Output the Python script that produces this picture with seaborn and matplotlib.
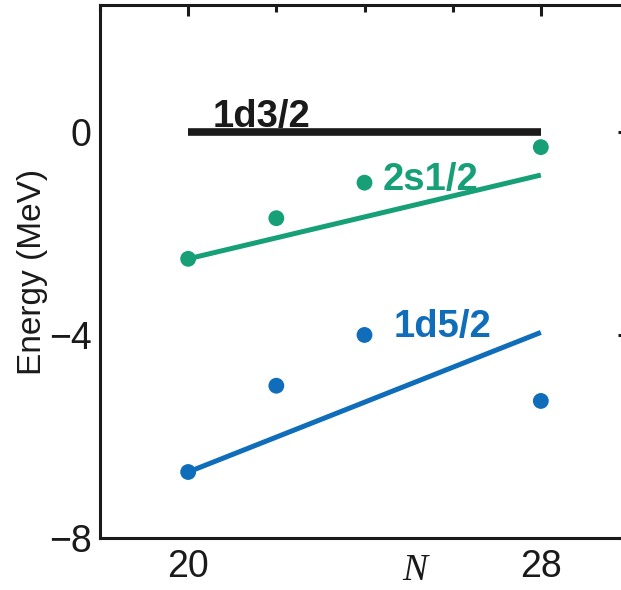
import matplotlib
matplotlib.use("Agg")
import matplotlib.pyplot as plt
import seaborn as sns
from matplotlib.ticker import MultipleLocator

# Data
N = [20, 22, 24, 28]
e_2s12 = [-2.5, -1.7, -1.0, -0.3]
e_1d52 = [-6.7, -5.0, -4.0, -5.3]
fit_N = [20, 28]
fit_2s12 = [-2.5, -0.85]
fit_1d52 = [-6.7, -3.95]
fit_1d32 = [0.0, 0.0]
labels = ["1d3/2", "2s1/2", "1d5/2"]

GREEN = "#17a077"
BLUE = "#0f6dba"
INK = "#1a1a1a"

sns.set_style("white")
plt.rcParams["font.family"] = ["Liberation Sans", "DejaVu Sans"]

fig = plt.figure(figsize=(6.21, 5.90), dpi=100)
ax = fig.add_axes([100/621, 52/590, 529/621, 533/590])

sns.lineplot(x=fit_N, y=fit_1d32, ax=ax, color=INK, lw=5.5, solid_capstyle="butt")
sns.lineplot(x=fit_N, y=fit_2s12, ax=ax, color=GREEN, lw=3.6, solid_capstyle="butt")
sns.lineplot(x=fit_N, y=fit_1d52, ax=ax, color=BLUE, lw=3.6, solid_capstyle="butt")
sns.scatterplot(x=N, y=e_2s12, ax=ax, color=GREEN, s=130, edgecolor="none", zorder=3)
sns.scatterplot(x=N, y=e_1d52, ax=ax, color=BLUE, s=130, edgecolor="none", zorder=3)

ax.text(20.55, 0.1, labels[0], color=INK, fontsize=27.5, fontweight="bold", ha="left", va="baseline")
ax.text(24.4, -0.95, labels[1], color=GREEN, fontsize=27.5, fontweight="bold", ha="left", va="center")
ax.text(24.65, -3.85, labels[2], color=BLUE, fontsize=27.5, fontweight="bold", ha="left", va="center")

ax.set_xlim(18, 30)
ax.set_ylim(-8, 2.5)
ax.set_xticks([20, 28])
ax.set_xticklabels(["20", "28"])
ax.xaxis.set_minor_locator(MultipleLocator(2))
ax.set_yticks([-8, -4, 0])
ax.set_yticklabels(["\u22128", "\u22124", "0"])
ax.yaxis.set_minor_locator(MultipleLocator(1))

ax.tick_params(which="both", direction="in", top=True, right=True, width=2.2, labelsize=27, colors=INK)
ax.tick_params(axis="x", which="both", pad=8)
ax.tick_params(axis="y", which="both", pad=6)
ax.tick_params(which="major", length=8)
ax.tick_params(axis="x", which="minor", length=5)
ax.tick_params(axis="y", which="minor", length=3.5)
for sp in ax.spines.values():
    sp.set_linewidth(2.2)
    sp.set_color(INK)

ax.set_ylabel("Energy (MeV)", fontsize=24, color=INK, labelpad=1)
ax.set_xlabel("N", fontsize=27, fontstyle="italic", family=["Liberation Serif", "DejaVu Serif"],
              color=INK, labelpad=-23, x=(25.15 - 18) / 12)

fig.savefig("out.png", dpi=100)
